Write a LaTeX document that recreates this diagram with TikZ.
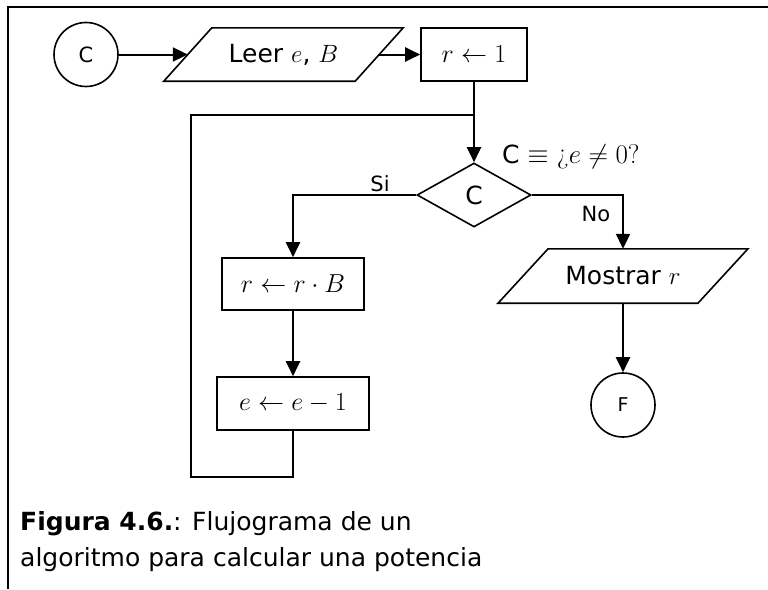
\RequirePackage{fix-cm}
\documentclass[tikz,border=0pt]{standalone}
\usepackage{fontspec}
\usetikzlibrary{shapes.geometric,arrows.meta,calc}
\newfontfamily\vs{DejaVu Sans}
\tikzset{
  shp/.style={line width=1.6pt},
  conn/.style={line width=2pt},
  arr/.style={conn,-{Triangle[length=15pt,width=14pt]}},
  term/.style={shp,draw,circle,minimum size=64pt,inner sep=0pt,font=\vs\fontsize{21}{25}\selectfont},
  procbox/.style={shp,draw,rectangle,inner sep=0pt,font=\fontsize{26}{30}\selectfont},
  iobox/.style={rectangle,inner sep=0pt,font=\vs\fontsize{25}{30}\selectfont},
  lab/.style={inner sep=0pt,font=\vs\fontsize{21}{25}\selectfont},
  captxt/.style={inner sep=0pt,anchor=base west,font=\vs\fontsize{25}{30}\selectfont}
}
\begin{document}
\begin{tikzpicture}[x=1pt,y=-1pt]
\useasboundingbox (0,0) rectangle (768,589);
% frame
\draw[line width=2.5pt] (8,589) -- (8,7) -- (768,7);

% nodes
\node[term] (c) at (86,54.5) {C};
\node[iobox,minimum width=191pt,minimum height=53pt] (leer) at (283.5,54.5) {Leer $e$, $B$};
\draw[shp] ([xshift=24pt]leer.north west) -- ([xshift=24pt]leer.north east)
  -- ([xshift=-24pt]leer.south east) -- ([xshift=-24pt]leer.south west) -- cycle;
\node[procbox,minimum width=106pt,minimum height=53pt] (r1) at (474,54.5) {$r\leftarrow 1$};
\node[shp,draw,diamond,minimum width=114pt,minimum height=64pt,inner sep=0pt,
      font=\vs\fontsize{25}{30}\selectfont] (dia) at (474,195) {C};
\node[inner sep=0pt,anchor=base west,font=\vs\fontsize{25}{30}\selectfont] (cond) at (502,163)
  {C {\fontsize{27}{30}\selectfont$\equiv$ {\rmfamily ¿}$e\neq 0${\rmfamily ?}}};
\node[procbox,minimum width=142pt,minimum height=52pt] (rb) at (293,284) {$r\leftarrow r\cdot B$};
\node[procbox,minimum width=152pt,minimum height=53pt] (ee) at (293,403.5) {$e\leftarrow e-1$};
\node[iobox,minimum width=199.5pt,minimum height=54pt] (mos) at (623,276) {Mostrar $r$};
\draw[shp] ([xshift=25pt]mos.north west) -- ([xshift=25pt]mos.north east)
  -- ([xshift=-25pt]mos.south east) -- ([xshift=-25pt]mos.south west) -- cycle;
\node[term,font=\vs\fontsize{19}{23}\selectfont] (f) at (623,405) {F};
\node[lab] (si) at (380,184) {Si};
\node[lab] (no) at (596,214) {No};

\coordinate (j) at (474,115);
\coordinate (lb) at (191,477);

% connectors
\draw[arr] (c.east) -- (leer.west);
\draw[arr] (leer.east) -- (r1.west);
\draw[arr] (r1.south) -- (dia.north);
\draw[conn] (ee.south) |- (lb) |- (j);
\draw[arr] (dia.west) -| (rb.north);
\draw[arr] (rb.south) -- (ee.north);
\draw[arr] (dia.east) -| (mos.north);
\draw[arr] (mos.south) -- (f.north);

% caption
\node[captxt] (cap1) at (20,530) {\textbf{Figura 4.6.}: Flujograma de un};
\node[captxt] (cap2) at (20,566) {algoritmo para calcular una potencia};
\end{tikzpicture}
\end{document}
